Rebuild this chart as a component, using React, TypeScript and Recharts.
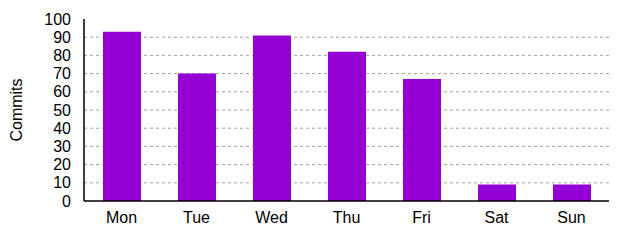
import { BarChart, Bar, XAxis, YAxis, CartesianGrid } from "recharts";

const days = ["Mon", "Tue", "Wed", "Thu", "Fri", "Sat", "Sun"];
const commits = [93, 70, 91, 82, 67, 9, 9];
const yTicks = [0, 10, 20, 30, 40, 50, 60, 70, 80, 90, 100];

const data = days.map((day, i) => ({ day, commits: commits[i] }));

const FONT = "'Liberation Sans', Arial, sans-serif";
const noTick = () => <g />;

if (typeof document !== "undefined") document.body.style.margin = "0";

export default function App() {
  return (
    <div style={{ width: 640, height: 240, background: "#fff", fontFamily: FONT }}>
      <BarChart
        width={640}
        height={240}
        data={data}
        margin={{ top: 19, right: 31, bottom: 0, left: 0 }}
        barSize={38}
      >
        <CartesianGrid
          xAxisId="b"
          yAxisId="l"
          vertical={false}
          stroke="#a0a0a0"
          strokeDasharray="3 3"
          horizontalValues={yTicks.slice(1, -1)}
        />
        <XAxis
          xAxisId="b"
          dataKey="day"
          height={39}
          axisLine={{ stroke: "#000", strokeWidth: 1.5 }}
          tickLine={false}
          tickSize={0}
          tickMargin={11}
          tick={{ fill: "#000", fontSize: 16, fontFamily: FONT }}
        />
        <XAxis
          xAxisId="t"
          dataKey="day"
          orientation="top"
          height={0}
          mirror
          tickSize={4}
          axisLine={{ stroke: "#000", strokeWidth: 1.5 }}
          tickLine={{ stroke: "#000" }}
          tick={noTick}
        />
        <YAxis
          yAxisId="l"
          width={84}
          domain={[0, 100]}
          ticks={yTicks}
          interval={0}
          axisLine={{ stroke: "#000", strokeWidth: 1.5 }}
          tickLine={false}
          tickSize={0}
          tickMargin={13}
          tick={{ fill: "#000", fontSize: 16, fontFamily: FONT }}
          label={{
            content: () => (
              <text
                x={16}
                y={110}
                transform="rotate(-90 16 110)"
                textAnchor="middle"
                dominantBaseline="central"
                fill="#000"
                fontSize={16}
                fontFamily={FONT}
              >
                Commits
              </text>
            ),
          }}
        />
        <YAxis
          yAxisId="r"
          orientation="right"
          width={0}
          mirror
          domain={[0, 100]}
          ticks={yTicks}
          interval={0}
          tickSize={4}
          axisLine={{ stroke: "#000", strokeWidth: 1.5 }}
          tickLine={{ stroke: "#000" }}
          tick={noTick}
        />
        <Bar
          xAxisId="b"
          yAxisId="l"
          dataKey="commits"
          fill="#9400d3"
          isAnimationActive={false}
        />
      </BarChart>
    </div>
  );
}
